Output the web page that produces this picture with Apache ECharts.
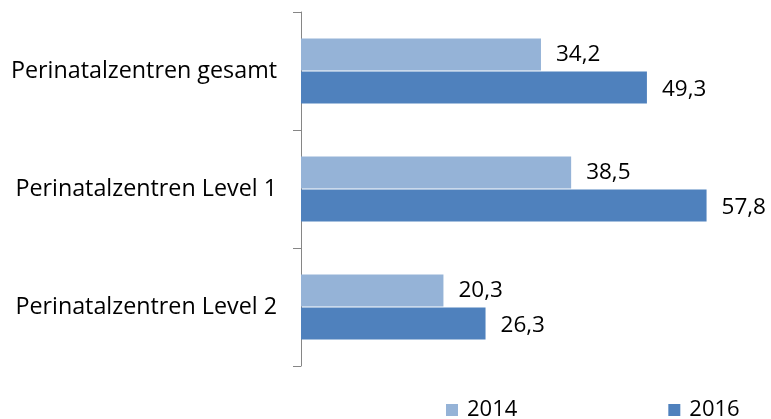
<!DOCTYPE html>
<html>
<head>
<meta charset="utf-8">
<script src="https://cdn.jsdelivr.net/npm/echarts@6/dist/echarts.min.js"></script>
<style>
  html, body { margin: 0; padding: 0; background: #fff; }
  #chart { width: 771px; height: 419px; }
</style>
</head>
<body>
<div id="chart"></div>
<script>
  var categories = ['Perinatalzentren gesamt', 'Perinatalzentren Level 1', 'Perinatalzentren Level 2'];
  var values2014 = [34.2, 38.5, 20.3];
  var values2016 = [49.3, 57.8, 26.3];
  var seriesNames = ['2014', '2016'];

  var font = '"Open Sans", sans-serif';

  function commaLabel (p) {
    return String(p.value.toFixed(1)).replace('.', ',');
  }

  var myChart = echarts.init(document.getElementById('chart'));
  myChart.setOption({
    animation: false,
    grid: { left: 301, right: 49, top: 12, bottom: 53 },
    legend: {
      data: seriesNames,
      left: 441,
      top: 394,
      itemWidth: 12,
      itemHeight: 12,
      itemGap: 151,
      icon: 'rect',
      textStyle: { fontFamily: font, fontSize: 22, color: '#000', padding: [0, 0, 0, 4] }
    },
    xAxis: {
      type: 'value',
      min: 0,
      max: 60,
      show: false
    },
    yAxis: {
      type: 'category',
      inverse: true,
      data: categories,
      axisLine: { lineStyle: { color: '#868686', width: 1 } },
      axisTick: { show: true, length: 8, lineStyle: { color: '#868686' } },
      axisLabel: { margin: 24, fontFamily: font, fontSize: 23.3, color: '#000', padding: [4, 0, 0, 0] }
    },
    series: [
      {
        name: '2014',
        type: 'bar',
        data: values2014,
        barCategoryGap: '45%',
        barGap: '3%',
        itemStyle: { color: '#95b3d7' },
        label: { show: true, position: 'right', distance: 15, fontFamily: font, fontSize: 22.5, color: '#000', formatter: commaLabel }
      },
      {
        name: '2016',
        type: 'bar',
        data: values2016,
        barCategoryGap: '45%',
        barGap: '3%',
        itemStyle: { color: '#4f81bd' },
        label: { show: true, position: 'right', distance: 15, offset: [0, 2], fontFamily: font, fontSize: 22.5, color: '#000', formatter: commaLabel }
      }
    ]
  });
</script>
</body>
</html>
